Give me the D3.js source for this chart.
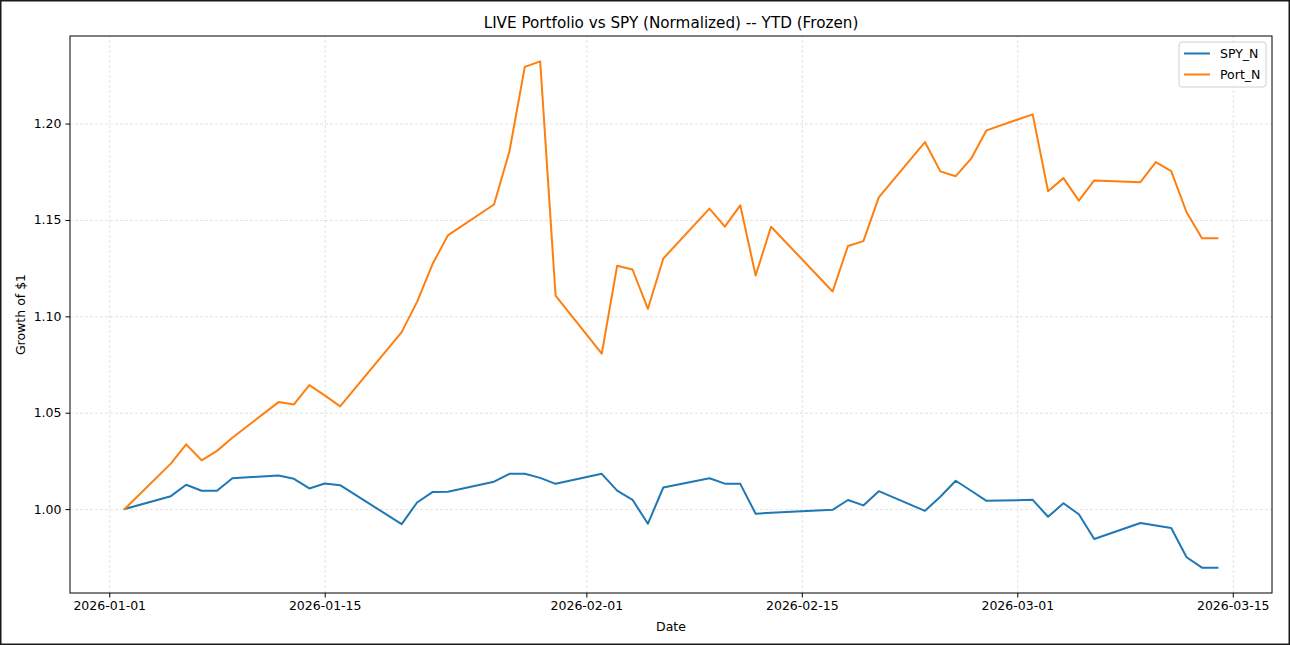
<!DOCTYPE html>
<html>
<head>
<meta charset="utf-8">
<script src="https://cdn.jsdelivr.net/npm/d3@7/dist/d3.min.js"></script>
<style>
  html, body { margin: 0; padding: 0; background: #fff; }
  svg { display: block; font-family: "DejaVu Sans", sans-serif; }
  .tick text { font-family: "DejaVu Sans", sans-serif; font-size: 12.5px; fill: #000; }
  .tick line { stroke: #000; stroke-width: 1; }
  .grid line { stroke: #b0b0b0; stroke-opacity: 0.45; stroke-dasharray: 3 2; stroke-width: 0.8; }
  .grid .domain { display: none; }
</style>
</head>
<body>
<div id="chart"></div>
<script>
const dates = [
  "2026-01-02", "2026-01-05", "2026-01-06", "2026-01-07", "2026-01-08", "2026-01-09",
  "2026-01-12", "2026-01-13", "2026-01-14", "2026-01-15", "2026-01-16",
  "2026-01-20", "2026-01-21", "2026-01-22", "2026-01-23",
  "2026-01-26", "2026-01-27", "2026-01-28", "2026-01-29", "2026-01-30",
  "2026-02-02", "2026-02-03", "2026-02-04", "2026-02-05", "2026-02-06",
  "2026-02-09", "2026-02-10", "2026-02-11", "2026-02-12", "2026-02-13",
  "2026-02-17", "2026-02-18", "2026-02-19", "2026-02-20",
  "2026-02-23", "2026-02-24", "2026-02-25", "2026-02-26", "2026-02-27",
  "2026-03-02", "2026-03-03", "2026-03-04", "2026-03-05", "2026-03-06",
  "2026-03-09", "2026-03-10", "2026-03-11", "2026-03-12", "2026-03-13", "2026-03-14"
];

const spyN = [
  1.000, 1.0067, 1.0126, 1.0095, 1.0095, 1.016,
  1.0174, 1.0157, 1.0107, 1.0133, 1.0124,
  0.9922, 1.0034, 1.0088, 1.009,
  1.0142, 1.0183, 1.0183, 1.0162, 1.0131,
  1.0183, 1.0096, 1.0048, 0.9924, 1.0112,
  1.016, 1.0132, 1.0131, 0.9976, 0.9981,
  0.9996, 1.0047, 1.0019, 1.0093,
  0.9991, 1.0064, 1.0147, 1.0095, 1.0043,
  1.0048, 0.996, 1.003, 0.9973, 0.9845,
  0.9928, 0.9915, 0.9902, 0.975, 0.9696, 0.9696
];

const portN = [
  1.000, 1.0236, 1.0336, 1.0253, 1.0302, 1.037,
  1.0555, 1.0543, 1.0643, 1.059, 1.0533,
  1.0918, 1.1075, 1.127, 1.142,
  1.158, 1.1855, 1.2294, 1.2323, 1.1108,
  1.0806, 1.1262, 1.1243, 1.1039, 1.130,
  1.1559, 1.1465, 1.1576, 1.1212, 1.1465,
  1.1129, 1.1365, 1.139, 1.1617,
  1.1904, 1.1752, 1.1727, 1.1818, 1.1965,
  1.2048, 1.1649, 1.1717, 1.160, 1.1705,
  1.1696, 1.180, 1.1753, 1.154, 1.1405, 1.1405
];

const xTicks = ["2026-01-01", "2026-01-15", "2026-02-01", "2026-02-15", "2026-03-01", "2026-03-15"];
const yTicks = [1.00, 1.05, 1.10, 1.15, 1.20];

const seriesNames = ["SPY_N", "Port_N"];
const seriesColors = ["#1f77b4", "#ff7f0e"];

const width = 1290;
const height = 645;
const margin = { top: 36, right: 18, bottom: 52, left: 70 };
const innerWidth = width - margin.left - margin.right;
const innerHeight = height - margin.top - margin.bottom;

const parse = d3.utcParse("%Y-%m-%d");
const fmtDate = d3.utcFormat("%Y-%m-%d");

const series = [spyN, portN].map((values, i) => ({
  name: seriesNames[i],
  color: seriesColors[i],
  points: values.map((v, j) => ({ date: parse(dates[j]), value: v }))
}));

// matplotlib-style 5% padding on both axes
const tExtent = d3.extent(dates, (d) => parse(d).getTime());
const tPad = (tExtent[1] - tExtent[0]) * 0.05;
const vExtent = d3.extent(spyN.concat(portN));
const vPad = (vExtent[1] - vExtent[0]) * 0.05;

const x = d3.scaleUtc()
  .domain([new Date(tExtent[0] - tPad), new Date(tExtent[1] + tPad)])
  .range([0, innerWidth]);
const y = d3.scaleLinear()
  .domain([vExtent[0] - vPad, vExtent[1] + vPad])
  .range([innerHeight, 0]);

const svg = d3.select("#chart").append("svg")
  .attr("width", width)
  .attr("height", height);

svg.append("rect")
  .attr("x", 0.75).attr("y", 0.75)
  .attr("width", width - 1.5).attr("height", height - 1.5)
  .attr("fill", "#fff")
  .attr("stroke", "#1a1a1a")
  .attr("stroke-width", 1.5);

const plot = svg.append("g").attr("transform", `translate(${margin.left},${margin.top})`);

const xTickDates = xTicks.map(parse);

const gridX = plot.append("g")
  .attr("class", "grid")
  .attr("transform", `translate(0,${innerHeight})`)
  .call(d3.axisBottom(x).tickValues(xTickDates).tickSize(-innerHeight).tickFormat(""));

const gridY = plot.append("g")
  .attr("class", "grid")
  .call(d3.axisLeft(y).tickValues(yTicks).tickSize(-innerWidth).tickFormat(""));

gridX.selectAll("text").remove();
gridY.selectAll("text").remove();

const line = d3.line()
  .x((d) => x(d.date))
  .y((d) => y(d.value));

plot.selectAll("path.series")
  .data(series)
  .join("path")
  .attr("class", "series")
  .attr("fill", "none")
  .attr("stroke", (d) => d.color)
  .attr("stroke-width", 2)
  .attr("stroke-linejoin", "round")
  .attr("stroke-linecap", "square")
  .attr("d", (d) => line(d.points));

const xAxisG = plot.append("g")
  .attr("transform", `translate(0,${innerHeight})`)
  .call(d3.axisBottom(x).tickValues(xTickDates).tickSize(4.5).tickPadding(4).tickFormat(fmtDate));

const yAxisG = plot.append("g")
  .call(d3.axisLeft(y).tickValues(yTicks).tickSize(4.5).tickPadding(4).tickFormat(d3.format(".2f")));

xAxisG.select(".domain").remove();
yAxisG.select(".domain").remove();

plot.append("rect")
  .attr("width", innerWidth)
  .attr("height", innerHeight)
  .attr("fill", "none")
  .attr("stroke", "#000")
  .attr("stroke-width", 1);

svg.append("text")
  .attr("x", margin.left + innerWidth / 2)
  .attr("y", 28)
  .attr("text-anchor", "middle")
  .attr("font-size", 15.2)
  .text("LIVE Portfolio vs SPY (Normalized) -- YTD (Frozen)");

svg.append("text")
  .attr("x", margin.left + innerWidth / 2)
  .attr("y", 631)
  .attr("text-anchor", "middle")
  .attr("font-size", 12.5)
  .text("Date");

svg.append("text")
  .attr("transform", `translate(25,${margin.top + innerHeight / 2}) rotate(-90)`)
  .attr("text-anchor", "middle")
  .attr("font-size", 12.5)
  .text("Growth of $1");

// legend
const legend = svg.append("g").attr("transform", "translate(1179,42)");
legend.append("rect")
  .attr("width", 87)
  .attr("height", 45)
  .attr("rx", 3)
  .attr("fill", "#fff")
  .attr("fill-opacity", 0.8)
  .attr("stroke", "#d0d0d0")
  .attr("stroke-width", 1);

const items = legend.selectAll("g.item")
  .data(series)
  .join("g")
  .attr("class", "item")
  .attr("transform", (d, i) => `translate(0,${11.5 + i * 21})`);

items.append("line")
  .attr("x1", 5).attr("x2", 31)
  .attr("stroke", (d) => d.color)
  .attr("stroke-width", 2);

items.append("text")
  .attr("x", 41)
  .attr("dy", "0.35em")
  .attr("font-size", 12.5)
  .text((d) => d.name);
</script>
</body>
</html>
